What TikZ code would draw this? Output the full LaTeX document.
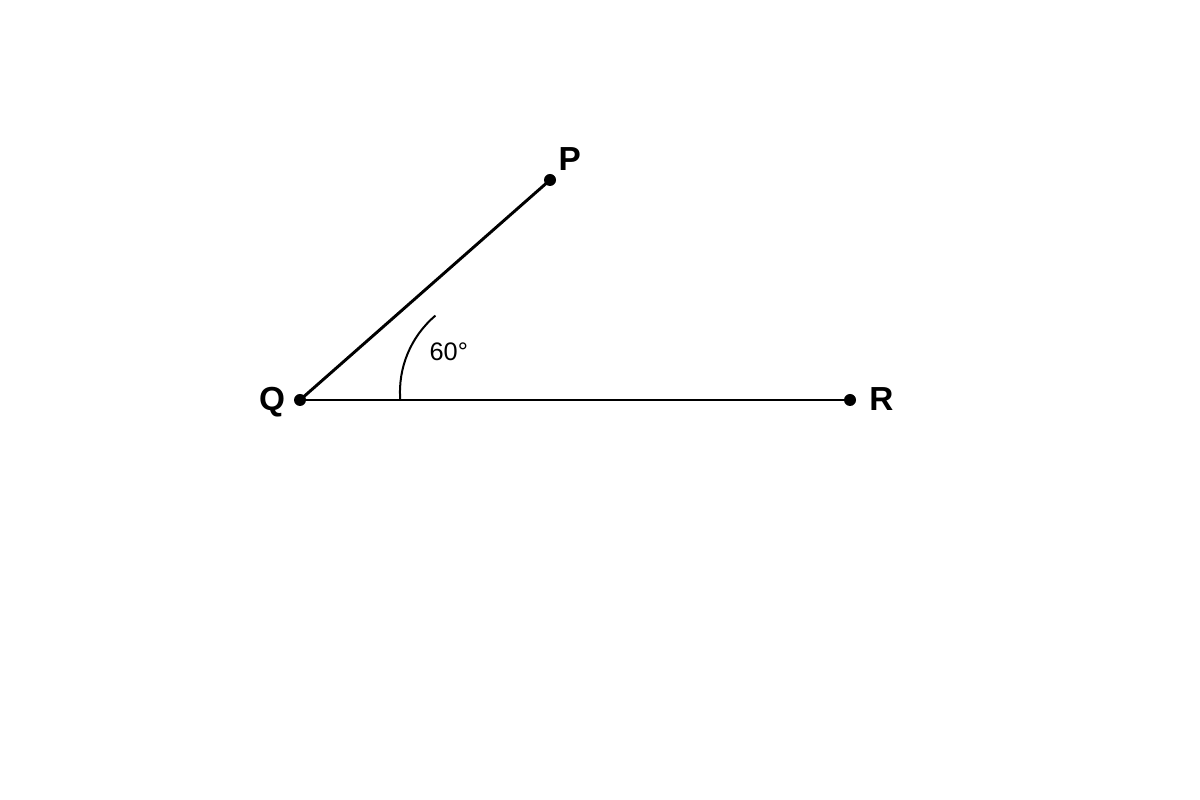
\documentclass[tikz,border=0pt]{standalone}
\usepackage{fontspec}
\setmainfont{Liberation Sans}
\begin{document}
\begin{tikzpicture}[x=0.75pt,y=0.75pt,
  dot/.style={circle,fill=black,inner sep=0pt,minimum size=9pt},
  ptlabel/.style={font=\fontsize{25}{30}\selectfont\bfseries,inner sep=0pt},
  anglabel/.style={font=\fontsize{19}{23}\selectfont,inner sep=0pt},
  seg/.style={line width=2.2pt},
  anglearc/.style={line width=1.5pt}]
\fill[white] (0,0) rectangle (1200,800);
\useasboundingbox (0,0) rectangle (1200,800);
\node[dot] (Q) at (300,400) {};
\node[dot] (P) at (550,620) {};
\node[dot] (R) at (850,400) {};
\draw[seg] (Q.center) -- (P.center);
\draw[seg] (Q.center) -- (R.center);
\coordinate (arcstart) at (400.3,400);
\draw[anglearc] (arcstart) arc[start angle=184.6, end angle=130.2, radius=100];
\node[ptlabel,anchor=base] (Plab) at (569.7,629.7) {P};
\node[ptlabel,anchor=base] (Qlab) at (272.2,389.5) {Q};
\node[ptlabel,anchor=base] (Rlab) at (881.5,389) {R};
\node[anglabel,anchor=base] (ang) at (448.8,439.3) {60°};
\end{tikzpicture}
\end{document}
